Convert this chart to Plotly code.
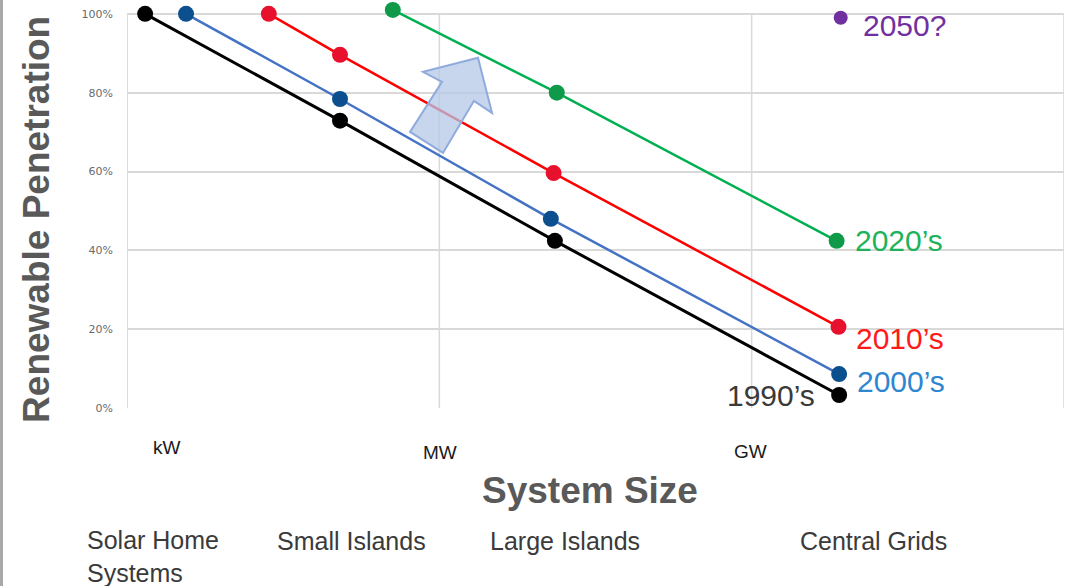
import plotly.graph_objects as go

# ---- data ----
x_1990 = [0.058, 0.682, 1.370, 2.280]
y_1990 = [100.0, 72.9, 42.4, 3.3]
x_2000 = [0.189, 0.682, 1.357, 2.280]
y_2000 = [100.0, 78.4, 48.0, 8.6]
x_2010 = [0.454, 0.682, 1.366, 2.278]
y_2010 = [100.0, 89.6, 59.6, 20.6]
x_2020 = [0.851, 1.376, 2.272]
y_2020 = [101.0, 80.0, 42.4]
x_2050 = [2.285]
y_2050 = [99.0]

y_ticks = [0, 20, 40, 60, 80, 100]
y_ticktext = ["0%", "20%", "40%", "60%", "80%", "100%"]
x_grid = [1, 2, 3]
size_labels = ["kW", "MW", "GW"]
category_labels = ["Solar Home<br>Systems", "Small Islands", "Large Islands", "Central Grids"]

# ---- layout geometry helpers (pixel -> paper / data) ----
W, H = 1076, 586
L, R = 127, 12
Y0_PX, Y100_PX = 408, 14          # pixel rows of 0% and 100%
YMAX = 103.0                      # headroom so the top markers are not hidden
PX_PER_PCT = (Y0_PX - Y100_PX) / 100
T = Y100_PX - (YMAX - 100) * PX_PER_PCT
B = H - Y0_PX
PW, PH = W - L - R, H - T - B


def pxx(p):
    return (p - L) / PW


def pxy(p):
    return (H - B - p) / PH


def dx(p):
    return (p - L) / PW * 3


def dy(p):
    return (Y0_PX - p) / PX_PER_PCT


FONT = "Liberation Sans, Arial, sans-serif"
GRID = "#D9D9D9"

fig = go.Figure()


def add_series(xs, ys, line_color, marker_color, lw, name):
    fig.add_trace(go.Scatter(
        x=xs, y=ys, mode="lines+markers", name=name,
        line=dict(color=line_color, width=lw),
        marker=dict(color=marker_color, size=16),
        cliponaxis=False, showlegend=False,
    ))


add_series(x_1990, y_1990, "#000000", "#000000", 3, "1990's")
add_series(x_2000, y_2000, "#4472C4", "#0B4F8E", 2.5, "2000's")
add_series(x_2010, y_2010, "#FF0000", "#E8112D", 2.5, "2010's")
add_series(x_2020, y_2020, "#00B050", "#0E9A48", 2.5, "2020's")
fig.add_trace(go.Scatter(
    x=x_2050, y=y_2050, mode="markers", name="2050?",
    marker=dict(color="#7030A0", size=14), cliponaxis=False, showlegend=False,
))

# ---- shapes: grid/axis lines, arrow, left band ----
shapes = []
for gx in x_grid:
    shapes.append(dict(type="line", xref="x", yref="y", x0=gx, x1=gx, y0=-1.2 if gx == 3 else 0,
                       y1=100, line=dict(color=GRID, width=1.5), layer="below"))
shapes.append(dict(type="line", xref="x", yref="y", x0=0, x1=0, y0=0, y1=100,
                   line=dict(color="#D0D0D0", width=1.5), layer="below"))

arrow_px = [(478, 58), (492, 113), (474, 101), (443, 153), (410, 132), (442, 82), (423, 72)]
path = "M " + " L ".join(f"{dx(a)},{dy(b)}" for a, b in arrow_px) + " Z"
shapes.append(dict(type="path", path=path, xref="x", yref="y",
                   fillcolor="rgba(180,199,231,0.75)", line=dict(color="#8FAADC", width=2)))
shapes.append(dict(type="rect", xref="paper", yref="paper", x0=pxx(0), x1=pxx(3),
                   y0=pxy(H), y1=pxy(0), fillcolor="#A8A8A8", line=dict(width=0), layer="below"))

ann = []


def text(x, y, s, size, color, xa="left", ya="middle", bold=False, angle=0, align="left"):
    ann.append(dict(
        x=pxx(x), y=pxy(y), xref="paper", yref="paper", text=("<b>%s</b>" % s) if bold else s,
        showarrow=False, xanchor=xa, yanchor=ya, textangle=angle, align=align,
        font=dict(family=FONT, size=size, color=color),
    ))


# series labels
text(861, 26, "2050?", 30, "#7030A0")
text(853, 241, "2020’s", 30, "#1DB35A")
text(854, 339, "2010’s", 30, "#FF1A1A")
text(855, 382, "2000’s", 30, "#2E86D0")
text(817, 396, "1990’s", 30, "#3A3A3A", xa="right")

# size labels
for (x, y), s in zip([(167, 447), (440, 452), (750, 451)], size_labels):
    text(x, y, s, 19, "#1A1A1A", xa="center")

# axis titles
text(590, 490, "System Size", 37, "#595959", xa="center", bold=True)
text(37, 220, "Renewable Penetration", 37, "#595959", xa="center", bold=True, angle=-90)

# categories
cat_pos = [(85, 524), (275, 525), (488, 525), (798, 525)]
for (x, y), s in zip(cat_pos, category_labels):
    text(x, y, s, 25, "#3A3A3A", ya="top")

fig.update_layout(
    width=W, height=H,
    margin=dict(l=L, r=R, t=T, b=B, pad=0),
    paper_bgcolor="white", plot_bgcolor="white",
    shapes=shapes, annotations=ann,
    xaxis=dict(range=[0, 3], showticklabels=False, showgrid=False, zeroline=False,
               showline=False, fixedrange=True),
    yaxis=dict(range=[0, YMAX], tickvals=y_ticks, ticktext=y_ticktext,
               showgrid=True, gridcolor=GRID, gridwidth=1.5, zeroline=False,
               showline=False, ticks="", ticklabelstandoff=13,
               tickfont=dict(family="DejaVu Sans, sans-serif", size=11, color="#6B6B6B"),
               fixedrange=True),
)

fig.write_html("out.html", config={"displayModeBar": False},
               post_script="document.body.style.margin='0';document.body.style.overflow='hidden';")
